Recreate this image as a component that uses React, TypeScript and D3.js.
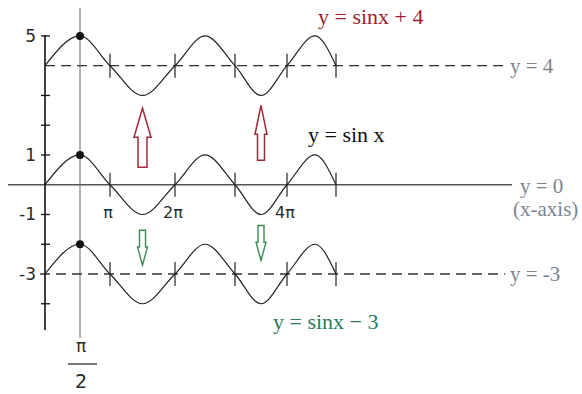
import React from "react";
import * as d3 from "d3";

const PI = Math.PI;

// key points of y = sin x over [0, 5π]
const sineX = [0, PI / 2, PI, (3 * PI) / 2, 2 * PI, (5 * PI) / 2, 3 * PI, (7 * PI) / 2, 4 * PI, (9 * PI) / 2, 5 * PI];
const sineY = [0, 1, 0, -1, 0, 1, 0, -1, 0, 1, 0];
const shifts = [4, 0, -3];
const crossings = [PI, 2 * PI, 3 * PI, 4 * PI, 5 * PI];
const yTicks = [5, 3, 2, 1, -1, -2, -4];
const yLabels = [5, 1, -1, -3];
const piLabels = [
  { v: PI, text: "π" },
  { v: 2 * PI, text: "2π" },
  { v: 4 * PI, text: "4π" },
];
const upArrows = [
  { x: (3 * PI) / 2, from: 0.59, to: 2.57 },
  { x: (7 * PI) / 2, from: 0.82, to: 2.67 },
];
const downArrows = [
  { x: (3 * PI) / 2, from: -1.53, to: -2.7 },
  { x: (7 * PI) / 2, from: -1.37, to: -2.54 },
];

const W = 582;
const H = 394;

// hand drawn graph: spacing of the periods is not uniform
const x = d3
  .scaleLinear()
  .domain([0, PI / 2, PI, 2 * PI, 3 * PI, 4 * PI, (9 * PI) / 2, 5 * PI])
  .range([45, 80, 110, 175, 235, 287, 315, 336]);
const y = d3.scaleLinear().domain([4, -3]).range([65.7, 274]);

const line = d3
  .line<[number, number]>()
  .x((d) => x(d[0]))
  .y((d) => y(d[1]))
  .curve(d3.curveMonotoneX);

const arrowPath = (xc: number, y0: number, y1: number, shaftW: number, headW: number, headL: number) => {
  const dir = y1 < y0 ? -1 : 1;
  const hb = y1 - dir * headL;
  const p = d3.path();
  p.moveTo(xc - shaftW / 2, y0);
  p.lineTo(xc - shaftW / 2, hb);
  p.lineTo(xc - headW / 2, hb);
  p.lineTo(xc, y1);
  p.lineTo(xc + headW / 2, hb);
  p.lineTo(xc + shaftW / 2, hb);
  p.lineTo(xc + shaftW / 2, y0);
  p.closePath();
  return p.toString();
};

const serif = "'Liberation Serif', 'Times New Roman', serif";
const sans = "'DejaVu Sans', 'Liberation Sans', sans-serif";
const grayText = "#7d8490";

export default function App() {
  return (
    <svg width={W} height={H} style={{ position: "absolute", left: 0, top: 0, background: "#fff" }}>
      {/* gray vertical line at x = π/2 */}
      <line x1={x(PI / 2)} x2={x(PI / 2)} y1={8} y2={338} stroke="#9a9a9a" strokeWidth={1.5} />

      {/* x axis */}
      <line x1={8} x2={512} y1={y(0)} y2={y(0)} stroke="#555" strokeWidth={1.5} />

      {/* dashed guide lines */}
      <line x1={x(0)} x2={505} y1={y(4)} y2={y(4)} stroke="#333" strokeWidth={1.3} strokeDasharray="10,6" />
      <line x1={40} x2={505} y1={y(-3)} y2={y(-3)} stroke="#333" strokeWidth={1.3} strokeDasharray="10,6" />

      {/* y axis */}
      <line x1={x(0)} x2={x(0)} y1={y(5) - 1} y2={330} stroke="#111" strokeWidth={1.6} />
      {yTicks.map((t) => (
        <line key={t} x1={x(0) - 4} x2={x(0) + 5} y1={y(t)} y2={y(t)} stroke="#111" strokeWidth={1.3} />
      ))}
      {yLabels.map((t) => (
        <text key={t} x={36} y={y(t) + 6} textAnchor="end" fontFamily={sans} fontSize={17} fill="#2a2a2a">
          {t}
        </text>
      ))}

      {/* sine curves */}
      {shifts.map((s) => (
        <g key={s}>
          <path
            d={line(sineX.map((v, i) => [v, sineY[i] + s]) as [number, number][]) || ""}
            fill="none"
            stroke="#222"
            strokeWidth={1.2}
          />
          {crossings.map((c) => (
            <line key={c} x1={x(c)} x2={x(c)} y1={y(s) - 12} y2={y(s) + 12} stroke="#222" strokeWidth={1.2} />
          ))}
          <circle cx={x(PI / 2)} cy={y(s + 1)} r={4} fill="#111" />
        </g>
      ))}

      {/* π labels on x axis */}
      {piLabels.map((l) => (
        <text key={l.text} x={x(l.v) - 2} y={218} textAnchor="middle" fontFamily={sans} fontSize={16} fill="#2a2a2a">
          {l.text}
        </text>
      ))}

      {/* π/2 below */}
      <text x={x(PI / 2) + 1} y={352} textAnchor="middle" fontFamily={sans} fontSize={17} fill="#2a2a2a">
        π
      </text>
      <line x1={68} x2={97} y1={364} y2={364} stroke="#333" strokeWidth={1.3} />
      <text x={x(PI / 2) + 1} y={388} textAnchor="middle" fontFamily={sans} fontSize={19} fill="#2a2a2a">
        2
      </text>

      {/* arrows */}
      {upArrows.map((a, i) => (
        <path
          key={"u" + i}
          d={arrowPath(x(a.x), y(a.from), y(a.to), i === 0 ? 9 : 7, i === 0 ? 17 : 12, 29)}
          fill="#fff"
          stroke="#a3283a"
          strokeWidth={1.5}
        />
      ))}
      {downArrows.map((a, i) => (
        <path
          key={"d" + i}
          d={arrowPath(x(a.x), y(a.from), y(a.to), 6, 10, 18)}
          fill="#fff"
          stroke="#3a8a50"
          strokeWidth={1.4}
        />
      ))}

      {/* equation labels */}
      <text x={318} y={24} fontFamily={serif} fontSize={22} fill="#a01c2c">
        y = sinx + 4
      </text>
      <text x={308} y={142} fontFamily={serif} fontSize={22} fill="#111">
        y = sin x
      </text>
      <text x={273} y={329} fontFamily={serif} fontSize={22} fill="#2b7a5c">
        y = sinx − 3
      </text>
      <text x={510} y={73} fontFamily={serif} fontSize={21} fill={grayText}>
        y = 4
      </text>
      <text x={520} y={193} fontFamily={serif} fontSize={21} fill={grayText}>
        y = 0
      </text>
      <text x={513} y={216} fontFamily={serif} fontSize={21} fill={grayText}>
        (x-axis)
      </text>
      <text x={510} y={281} fontFamily={serif} fontSize={21} fill={grayText}>
        y = -3
      </text>
    </svg>
  );
}
